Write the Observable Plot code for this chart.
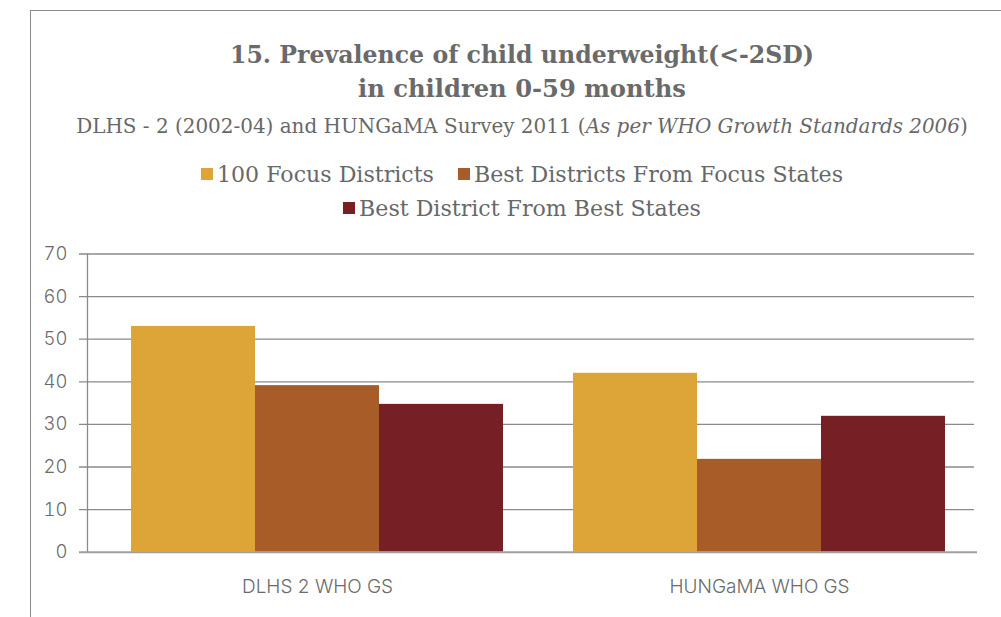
<!DOCTYPE html>
<html>
<head>
<meta charset="utf-8">
<script src="https://cdn.jsdelivr.net/npm/d3@7"></script>
<script src="https://cdn.jsdelivr.net/npm/@observablehq/plot@0.6"></script>
<style>
  html, body { margin: 0; padding: 0; background: #fff; width: 1001px; height: 617px; overflow: hidden; }
  #frame { position: absolute; left: 30px; top: 10px; width: 1000px; height: 700px;
           border-left: 1px solid #8a8a8a; border-top: 1px solid #8a8a8a; }
  #header { position: relative; height: 235px; }
  .line { position: absolute; left: 30px; width: 984px; text-align: center; white-space: nowrap;
          font-family: "DejaVu Serif", "Liberation Serif", serif; line-height: 1; color: #686868; }
  .title { font-weight: bold; font-size: 24px; color: #6a6a6a; }
  .sub { font-size: 20px; }
  .legend { font-size: 22px; }
  .sw { display: inline-block; width: 12px; height: 12px; margin-right: 4px; vertical-align: 2px; }
  .gap { display: inline-block; width: 24px; }
  #chart { position: absolute; left: 0; top: 235px; }
  #chart svg text { font-weight: 300; }
</style>
</head>
<body>
<div id="frame"></div>
<div id="header">
  <div class="line title" data-w="584" data-b="63.5"><span>15. Prevalence of child underweight(&lt;-2SD)</span></div>
  <div class="line title" data-w="328" data-b="98"><span>in children 0-59 months</span></div>
  <div class="line sub" data-w="892" data-b="134"><span>DLHS - 2 (2002-04) and HUNGaMA Survey 2011 (<i>As per WHO Growth Standards 2006</i>)</span></div>
  <div class="line legend" id="leg1" data-w="642" data-b="181.5"><span></span></div>
  <div class="line legend" id="leg2" data-b="216"><span></span></div>
</div>
<div id="chart"></div>
<script>
// ---- data ----
const groups = ["DLHS 2 WHO GS", "HUNGaMA WHO GS"];
const series = ["100 Focus Districts", "Best Districts From Focus States", "Best District From Best States"];
const focus100 = [53, 42];
const bestFocusStates = [39.1, 21.8];
const bestBestStates = [34.7, 31.9];
const yTicks = [0, 10, 20, 30, 40, 50, 60, 70];
const colors = ["#DDA537", "#A85C28", "#761F24"];

// ---- layout constants (in bar-width units) ----
const groupGap = 70 / 124;
const padLeft = 44 / 124;
const padRight = 32 / 124;

const valuesBySeries = [focus100, bestFocusStates, bestBestStates];
const data = groups.flatMap((g, gi) => series.map((s, si) => ({
  group: g, series: s, value: valuesBySeries[si][gi],
  x1: gi * (3 + groupGap) + si, x2: gi * (3 + groupGap) + si + 1
})));
const centers = groups.map((g, gi) => gi * (3 + groupGap) + 1.5);
const xMin = -padLeft;
const xMax = groups.length * 3 + (groups.length - 1) * groupGap + padRight;

// ---- legend ----
function legendItem(i) {
  return `<span class="sw" style="background:${colors[i]}"></span>${series[i]}`;
}
document.querySelector("#leg1 span").innerHTML = legendItem(0) + '<span class="gap"></span>' + legendItem(1);
document.querySelector("#leg2 span").innerHTML = legendItem(2);

// ---- fit header text widths ----
function fit(el, fsForce) {
  const span = el.firstElementChild;
  let fs = parseFloat(getComputedStyle(el).fontSize);
  if (fsForce) { fs = fsForce; el.style.fontSize = fs + "px"; }
  else if (el.dataset.w) {
    for (let k = 0; k < 3; k++) {
      const w = span.getBoundingClientRect().width;
      fs = fs * (+el.dataset.w) / w;
      el.style.fontSize = fs + "px";
    }
  }
  el.style.top = (+el.dataset.b - 0.846 * fs) + "px";
  return fs;
}
document.querySelectorAll(".line").forEach(el => { if (el.id !== "leg2") fit(el); });
fit(document.getElementById("leg2"), parseFloat(document.getElementById("leg1").style.fontSize));

// ---- chart ----
const chart = Plot.plot({
  width: 1001,
  height: 382,
  marginTop: 18.5,
  marginBottom: 65.3,
  marginLeft: 87,
  marginRight: 24,
  style: { fontFamily: "Inter, Lato, sans-serif", color: "#6b6b6b", background: "transparent" },
  x: { type: "linear", domain: [xMin, xMax], axis: null },
  y: { domain: [0, 70], axis: null },
  color: { domain: series, range: colors },
  marks: [
    Plot.ruleY(yTicks.filter(d => d > 0), { stroke: "#8a8a8a", strokeWidth: 1.3, insetLeft: -8, insetRight: 3 }),
    Plot.rect(data, { x1: "x1", x2: "x2", y1: 0, y2: "value", fill: "series" }),
    Plot.ruleY([0], { stroke: "#a0a0a0", strokeWidth: 2, insetLeft: -8 }),
    Plot.ruleX([xMin], { y1: 0, y2: 70, stroke: "#8a8a8a", strokeWidth: 1.3 }),
    Plot.axisY({ ticks: yTicks, tickSize: 0, tickPadding: 20, fontSize: 18.5, color: "#6b6b6b", label: null,
                 letterSpacing: "0.5px" }),
    Plot.axisX({ ticks: centers, tickFormat: d => groups[centers.indexOf(d)], tickSize: 0, tickPadding: 27,
                 fontSize: 19, color: "#6b6b6b", label: null, letterSpacing: "0.6px" })
  ]
});
document.getElementById("chart").append(chart);
</script>
</body>
</html>
